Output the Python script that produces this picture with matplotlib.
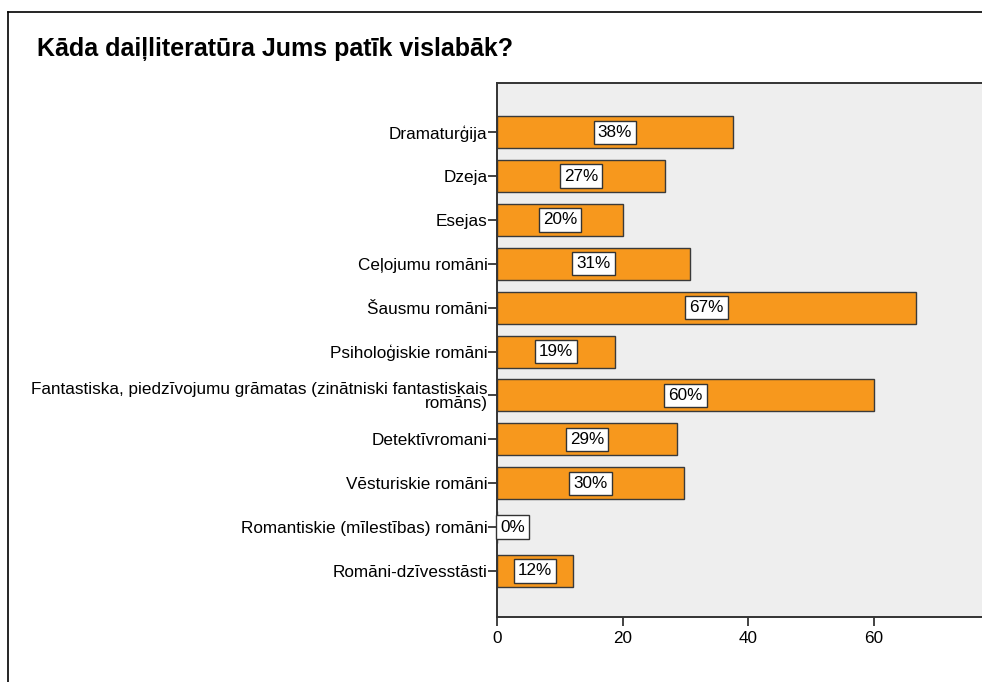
import matplotlib.pyplot as plt
from matplotlib.lines import Line2D

plt.rcParams['font.family'] = ['Liberation Sans', 'DejaVu Sans']

# Data
categories = [
    'Dramaturģija',
    'Dzeja',
    'Esejas',
    'Ceļojumu romāni',
    'Šausmu romāni',
    'Psiholoģiskie romāni',
    'Fantastiska, piedzīvojumu grāmatas (zinātniski fantastiskais\nromāns)',
    'Detektīvromani',
    'Vēsturiskie romāni',
    'Romantiskie (mīlestības) romāni',
    'Romāni-dzīvesstāsti',
]
values = [37.5, 26.7, 20.0, 30.7, 66.7, 18.7, 60.0, 28.6, 29.7, 0.0, 12.1]
labels = ['38%', '27%', '20%', '31%', '67%', '19%', '60%', '29%', '30%', '0%', '12%']

fig = plt.figure(figsize=(9.82, 6.82), dpi=100)
fig.patch.set_facecolor('white')

# outer frame (only left and top visible)
fig.add_artist(Line2D([0.0082, 0.0082], [0, 0.9824], color='black', lw=1.2))
fig.add_artist(Line2D([0.0082, 1.0], [0.9824, 0.9824], color='black', lw=1.2))

fig.text(0.038, 0.928, 'Kāda daiļliteratūra Jums patīk vislabāk?',
         fontsize=18, fontweight='bold', ha='left', va='center')

ax = fig.add_axes([0.5064, 0.0953, 0.4936, 0.7830])
ax.set_facecolor('#eeeeee')

ypos = list(range(len(categories)))
ax.barh(ypos, values, height=0.73, color='#f7981d', edgecolor='#3a3a3a', linewidth=1.0)

box = dict(boxstyle='square,pad=0.24', fc='white', ec='#333333', lw=1)
for y, v, lab in zip(ypos, values, labels):
    if v > 0:
        ax.text(v / 2, y, lab, ha='center', va='center', fontsize=12.3, bbox=box)
    else:
        ax.text(0.5, y, lab, ha='left', va='center', fontsize=12.3, bbox=box)

ax.set_yticks(ypos)
ax.set_yticklabels(categories, fontsize=12.3, linespacing=0.95)
ax.set_ylim(11.05, -1.12)
ax.set_xlim(0, 77.2)
ax.set_xticks([0, 20, 40, 60])
ax.tick_params(axis='both', direction='out', length=6.5, width=1.2, color='#222222', labelsize=12.3)
ax.tick_params(axis='y', pad=0.5)

for side in ['left', 'bottom', 'top']:
    ax.spines[side].set_color('#333333')
    ax.spines[side].set_linewidth(1.4)
ax.spines['right'].set_visible(False)

fig.savefig('out.png', dpi=100)
